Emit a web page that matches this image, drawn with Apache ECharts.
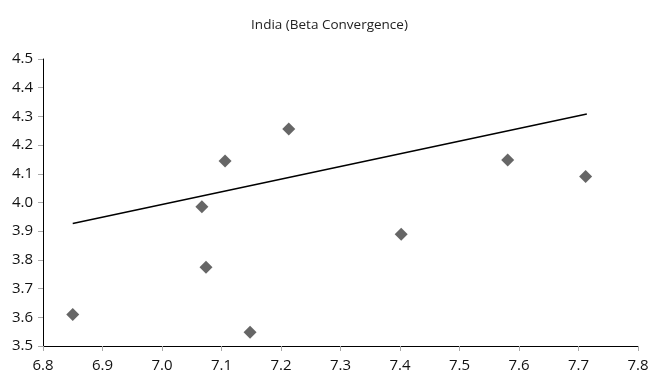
<!DOCTYPE html>
<html><head><meta charset="utf-8">
<script src="https://cdn.jsdelivr.net/npm/echarts@6/dist/echarts.min.js"></script>
<style>html,body{margin:0;padding:0;background:#fff}#c{width:659px;height:383px}</style>
</head><body><div id="c"></div>
<script>
var xValues = [6.85, 7.067, 7.074, 7.106, 7.148, 7.213, 7.402, 7.581, 7.712];
var yValues = [3.61, 3.985, 3.774, 4.145, 3.548, 4.256, 3.889, 4.148, 4.091];
var trendX = [6.85, 7.714];
var trendY = [3.927, 4.308];
var xTicks = [6.8, 6.9, 7.0, 7.1, 7.2, 7.3, 7.4, 7.5, 7.6, 7.7, 7.8];
var yTicks = [3.5, 3.6, 3.7, 3.8, 3.9, 4.0, 4.1, 4.2, 4.3, 4.4, 4.5];
var title = 'India (Beta Convergence)';

var pts = xValues.map(function(x, i){ return [x, yValues[i]]; });
var trend = trendX.map(function(x, i){ return [x, trendY[i]]; });
var font = '"Open Sans", sans-serif';
var tickFont = '"Liberation Sans Narrow", "Open Sans", sans-serif';
var chart = echarts.init(document.getElementById('c'), null, {renderer:'canvas'});
chart.setOption({
  animation: false,
  title: {text: title, left: 'center', top: 13, textStyle: {fontFamily: font, fontSize: 13.5, fontWeight: 'normal', color: '#222'}},
  grid: {left: 43, right: 21, top: 59, bottom: 37},
  xAxis: {type: 'value', min: xTicks[0], max: xTicks[xTicks.length-1], interval: 0.1,
    axisLine: {show: true, lineStyle: {color: '#000', width: 1}},
    axisTick: {show: true, length: 5, lineStyle: {color: '#aaa'}},
    splitLine: {show: false},
    axisLabel: {margin: 12, fontFamily: tickFont, fontSize: 15, color: '#111',
      formatter: function(v){ return v.toFixed(1); }}},
  yAxis: {type: 'value', min: yTicks[0], max: yTicks[yTicks.length-1], interval: 0.1,
    axisLine: {show: true, lineStyle: {color: '#000', width: 1}},
    axisTick: {show: true, length: 5, lineStyle: {color: '#aaa'}},
    splitLine: {show: false},
    axisLabel: {margin: 10, fontFamily: tickFont, fontSize: 15, color: '#111',
      formatter: function(v){ return v.toFixed(1); }}},
  series: [
    {type: 'line', data: trend, symbol: 'none', lineStyle: {color: '#000', width: 1.5}, silent: true},
    {type: 'scatter', data: pts, symbol: 'diamond', symbolSize: 13, itemStyle: {color: '#404040'}}
  ]
});
</script></body></html>
